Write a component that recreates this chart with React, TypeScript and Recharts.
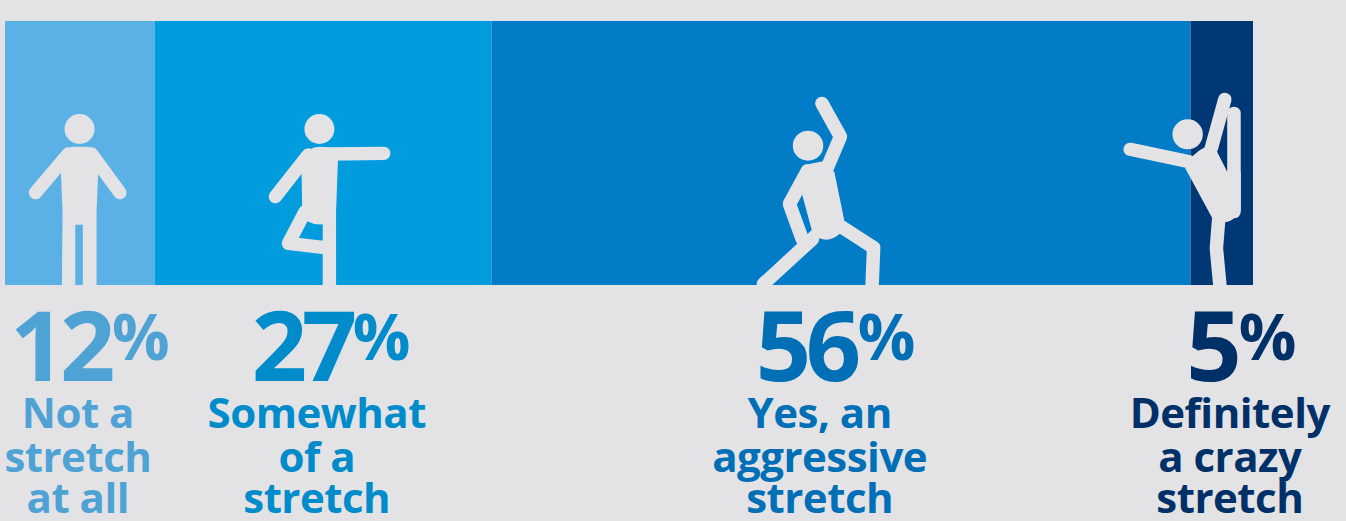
import React from "react";
import { BarChart, Bar, XAxis, YAxis, LabelList } from "recharts";

const answerKeys = ["notAtAll", "somewhat", "aggressive", "crazy"];
const shares = [12, 27, 56, 5];
const answerLines = [
  ["Not a", "stretch", "at all"],
  ["Somewhat", "of a", "stretch"],
  ["Yes, an", "aggressive", "stretch"],
  ["Definitely", "a crazy", "stretch"],
];
const barColors = ["#5BB1E6", "#009CDE", "#037CC7", "#003876"];
const textColors = ["#4FA3D4", "#008BCB", "#006FB6", "#003068"];

const row = [Object.fromEntries([["name", "stretch"], ...answerKeys.map((k, i) => [k, shares[i]])])];

const PAGE = "#E3E3E6";
const FONT = "'Open Sans', sans-serif";

// Where each caption sits relative to the centre of its segment, where the digits end and the % begins.
const captionShift = [-2, -6.5, -21.5, 8];
const digitsEnd = [32, 35, 36, 6.5];
const percentStart = [34, 36, 38, 9];

type Stroke = { d: string; w?: number };
type Figure = {
  origin: [number, number];
  scaleX: number;
  head: [number, number];
  bodies: string[];
  strokes: Stroke[];
};

// Pictograms are sketched on a 3x grid; origin is the point that lands on the segment's bottom centre.
const figures: Figure[] = [
  {
    origin: [240, 585],
    scaleX: 3,
    head: [239, 117],
    bodies: [
      "M182 220L190 185Q205 170 225 170L255 170Q275 170 290 185L296 220L290 365L290 585L249 585L249 404L226 404L226 585L186 585L188 365Z",
    ],
    strokes: [
      { d: "M205 192L107 308" },
      { d: "M275 192L360 308" },
    ],
  },
  {
    origin: [970.5, 585],
    scaleX: 3,
    head: [959, 117],
    bodies: [
      "M905 205Q925 170 960 170L990 172L1015 200L1009 365L1009 585L969 585L969 403Q945 405 925 395L907 348Z",
    ],
    strokes: [
      { d: "M925 195L827 320" },
      { d: "M985 192L1152 190" },
      { d: "M916 365L866 460L969 472" },
    ],
  },
  {
    origin: [300, 600],
    scaleX: 2.958,
    head: [202, 182],
    bodies: [
      "M182 250L190 240L250 228L280 262L309 405L298 445Q270 470 243 462L200 448L213 435L185 330Z",
    ],
    strokes: [
      { d: "M243 55L298 155L258 250" },
      { d: "M200 258L147 357L185 463" },
      { d: "M215 462L70 597" },
      { d: "M300 425L396 488L390 640" },
    ],
  },
  {
    origin: [1426, 600],
    scaleX: 2.958,
    head: [1325, 148],
    bodies: [
      "M1318 250Q1330 210 1378 185L1412 200L1442 260L1482 260L1482 375Q1460 410 1437 412L1398 400Z",
    ],
    strokes: [
      { d: "M1155 193L1330 230" },
      { d: "M1435 43L1395 190" },
      { d: "M1462 85L1462 380" },
      { d: "M1417 400L1410 490L1424 640" },
    ],
  },
];

function Pictogram({ index, cx, bottom }: { index: number; cx: number; bottom: number }) {
  const f = figures[index];
  const clipId = `ground-${index}`;
  return (
    <g transform={`translate(${cx} ${bottom}) scale(${1 / f.scaleX} ${1 / 3}) translate(${-f.origin[0]} ${-f.origin[1]})`}>
      <clipPath id={clipId}>
        <rect x={-500} y={-100} width={2600} height={f.origin[1] + 100} />
      </clipPath>
      <g clipPath={`url(#${clipId})`} fill={PAGE}>
        <circle cx={f.head[0]} cy={f.head[1]} r={45} />
        {f.bodies.map((d) => (
          <path key={d} d={d} />
        ))}
        {f.strokes.map((s) => (
          <path
            key={s.d}
            d={s.d}
            fill="none"
            stroke={PAGE}
            strokeWidth={s.w ?? 40}
            strokeLinecap="round"
            strokeLinejoin="round"
          />
        ))}
      </g>
    </g>
  );
}

function segmentLabel(index: number) {
  return (props: any) => {
    const { viewBox, value } = props;
    const cx = viewBox.x + viewBox.width / 2;
    const bottom = viewBox.y + viewBox.height;
    const mid = cx + captionShift[index];
    const color = textColors[index];
    return (
      <g fontFamily={FONT} fontWeight={700} fill={color}>
        <Pictogram index={index} cx={cx} bottom={bottom} />
        <text x={mid + digitsEnd[index]} y={bottom + 96} textAnchor="end" fontSize={97} letterSpacing={-5.5}>
          {value}
        </text>
        <text x={mid + percentStart[index]} y={bottom + 74.5} textAnchor="start" fontSize={64} letterSpacing={-2}>
          %
        </text>
        {answerLines[index].map((line, i) => (
          <text key={i} x={mid} y={bottom + [143, 187, 228][i]} textAnchor="middle" fontSize={42} letterSpacing={-0.5}>
            {line}
          </text>
        ))}
      </g>
    );
  };
}

export default function App() {
  return (
    <div style={{ position: "absolute", left: 0, top: 0, width: 1346, height: 521, background: PAGE, overflow: "hidden" }}>
      <BarChart
        width={1346}
        height={521}
        data={row}
        layout="vertical"
        barCategoryGap={0}
        margin={{ top: 21, right: 93, bottom: 236, left: 5 }}
      >
        <XAxis type="number" domain={[0, 100]} hide />
        <YAxis type="category" dataKey="name" hide />
        {answerKeys.map((key, i) => (
          <Bar key={key} dataKey={key} stackId="all" fill={barColors[i]} isAnimationActive={false}>
            <LabelList dataKey={key} content={segmentLabel(i)} />
          </Bar>
        ))}
      </BarChart>
    </div>
  );
}
